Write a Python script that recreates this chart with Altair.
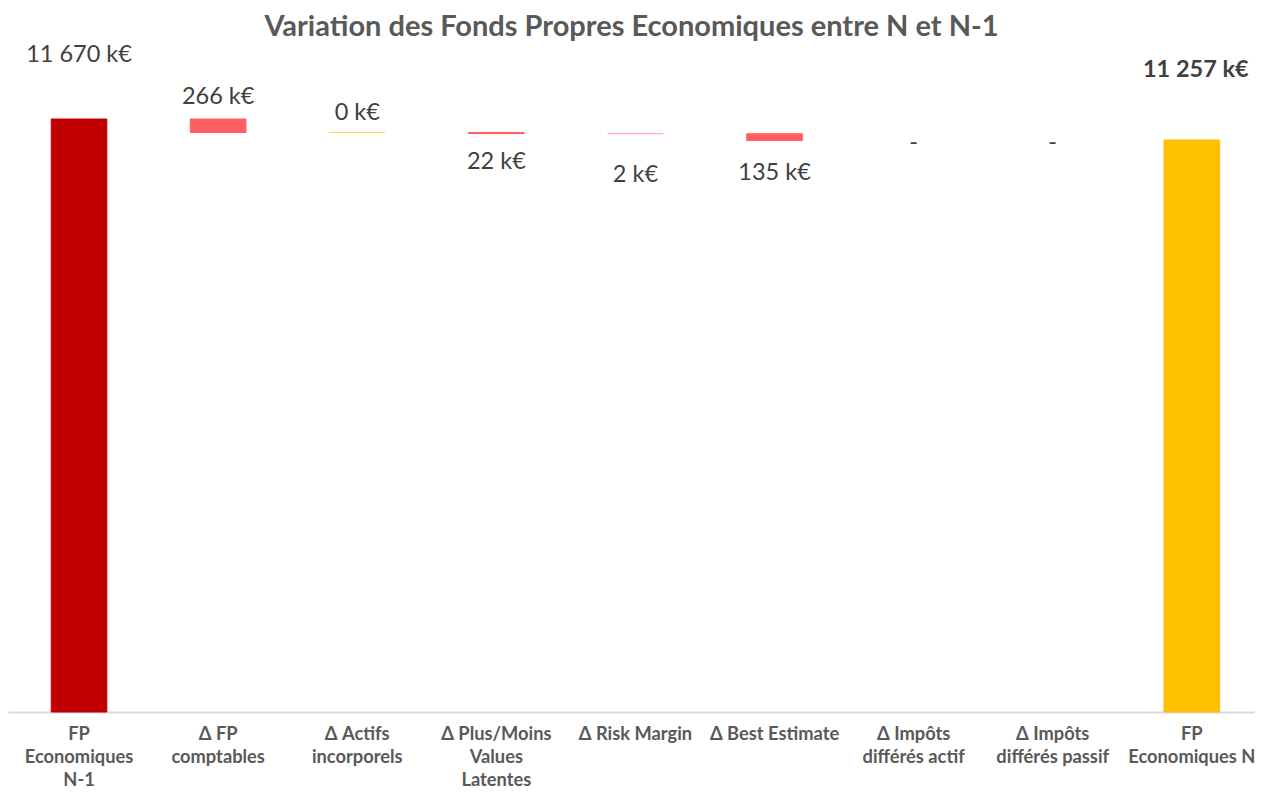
import altair as alt
import pandas as pd

categories = [
    "FP\nEconomiques\nN-1",
    "Δ FP\ncomptables",
    "Δ Actifs\nincorporels",
    "Δ Plus/Moins\nValues\nLatentes",
    "Δ Risk Margin",
    "Δ Best Estimate",
    "Δ Impôts\ndifférés actif",
    "Δ Impôts\ndifférés passif",
    "FP\nEconomiques N",
]
amounts = [11670, -266, 0.3, -22, -2, -135, 0, 0, 11257]
is_total = [True, False, False, False, False, False, False, False, True]
labels = ["11 670 k€", "266 k€", "0 k€", "22 k€", "2 k€", "135 k€", "-", "-", "11 257 k€"]
colors = ["#C00000", "#FF5F63", "#FFD966", "#FF5F63", "#FFB8BA", "#FF5F63",
          "transparent", "transparent", "#FFC000"]

rows = []
cum = 0.0
for c, a, t, l, col in zip(categories, amounts, is_total, labels, colors):
    if t:
        y0, y1 = 0.0, a
        cum = a
    else:
        y0, y1 = cum, cum + a
        cum += a
    rows.append({"cat": c, "y0": y0, "y1": y1, "top": max(y0, y1),
                 "bottom": min(y0, y1), "label": l, "color": col})
df = pd.DataFrame(rows)

FONT = "Lato"
H = 670
D = H / (593 / 11670)

xenc = alt.X("cat:N", sort=categories,
             scale=alt.Scale(paddingInner=0.6, paddingOuter=0.2825, align=0.55),
             axis=alt.Axis(title=None, labelAngle=0, ticks=False,
                           labelExpr="split(datum.label, '\\n')",
                           labelFont=FONT, labelFontSize=18.3, labelFontWeight="bold",
                           labelColor="#595959", labelLineHeight=23,
                           labelPadding=13, domainColor="#D9D9D9", domainWidth=2,
                           labelBaseline="top"))
yscale = alt.Scale(domain=[0, D], nice=False, zero=True)

base = alt.Chart(df)

bars = base.mark_bar(strokeWidth=1).encode(
    x=xenc,
    y=alt.Y("y0:Q", scale=yscale, axis=None),
    y2="y1:Q",
    fill=alt.Color("color:N", scale=None),
    stroke=alt.Color("color:N", scale=None),
)

def label_layer(cat, field, dy, bold=False, dx=0):
    return base.transform_filter(alt.datum.cat == cat).mark_text(
        font=FONT, fontSize=23.5, color="#404040", baseline="middle",
        dy=dy, dx=dx, fontWeight="bold" if bold else "normal"
    ).encode(
        x=alt.X("cat:N", sort=categories),
        y=alt.Y(f"{field}:Q", scale=yscale),
        text="label:N",
    )

layers = [
    bars,
    label_layer(categories[0], "top", -64),
    label_layer(categories[1], "top", -22),
    label_layer(categories[2], "top", -20),
    label_layer(categories[3], "bottom", 28),
    label_layer(categories[4], "bottom", 41),
    label_layer(categories[5], "bottom", 32),
    label_layer(categories[6], "bottom", 2),
    label_layer(categories[7], "bottom", 2),
    label_layer(categories[8], "top", -70, bold=True, dx=4),
]

chart = alt.layer(*layers).properties(
    width=1247, height=H,
    padding={"top": 5, "left": 0, "right": 0, "bottom": 0},
    title=alt.TitleParams("Variation des Fonds Propres Economiques entre N et N-1",
                          font=FONT, fontSize=29, fontWeight="bold",
                          color="#595959", anchor="middle", offset=0),
).configure_view(stroke=None)

chart.save("out.html", embed_options={"renderer": "svg", "actions": False})
